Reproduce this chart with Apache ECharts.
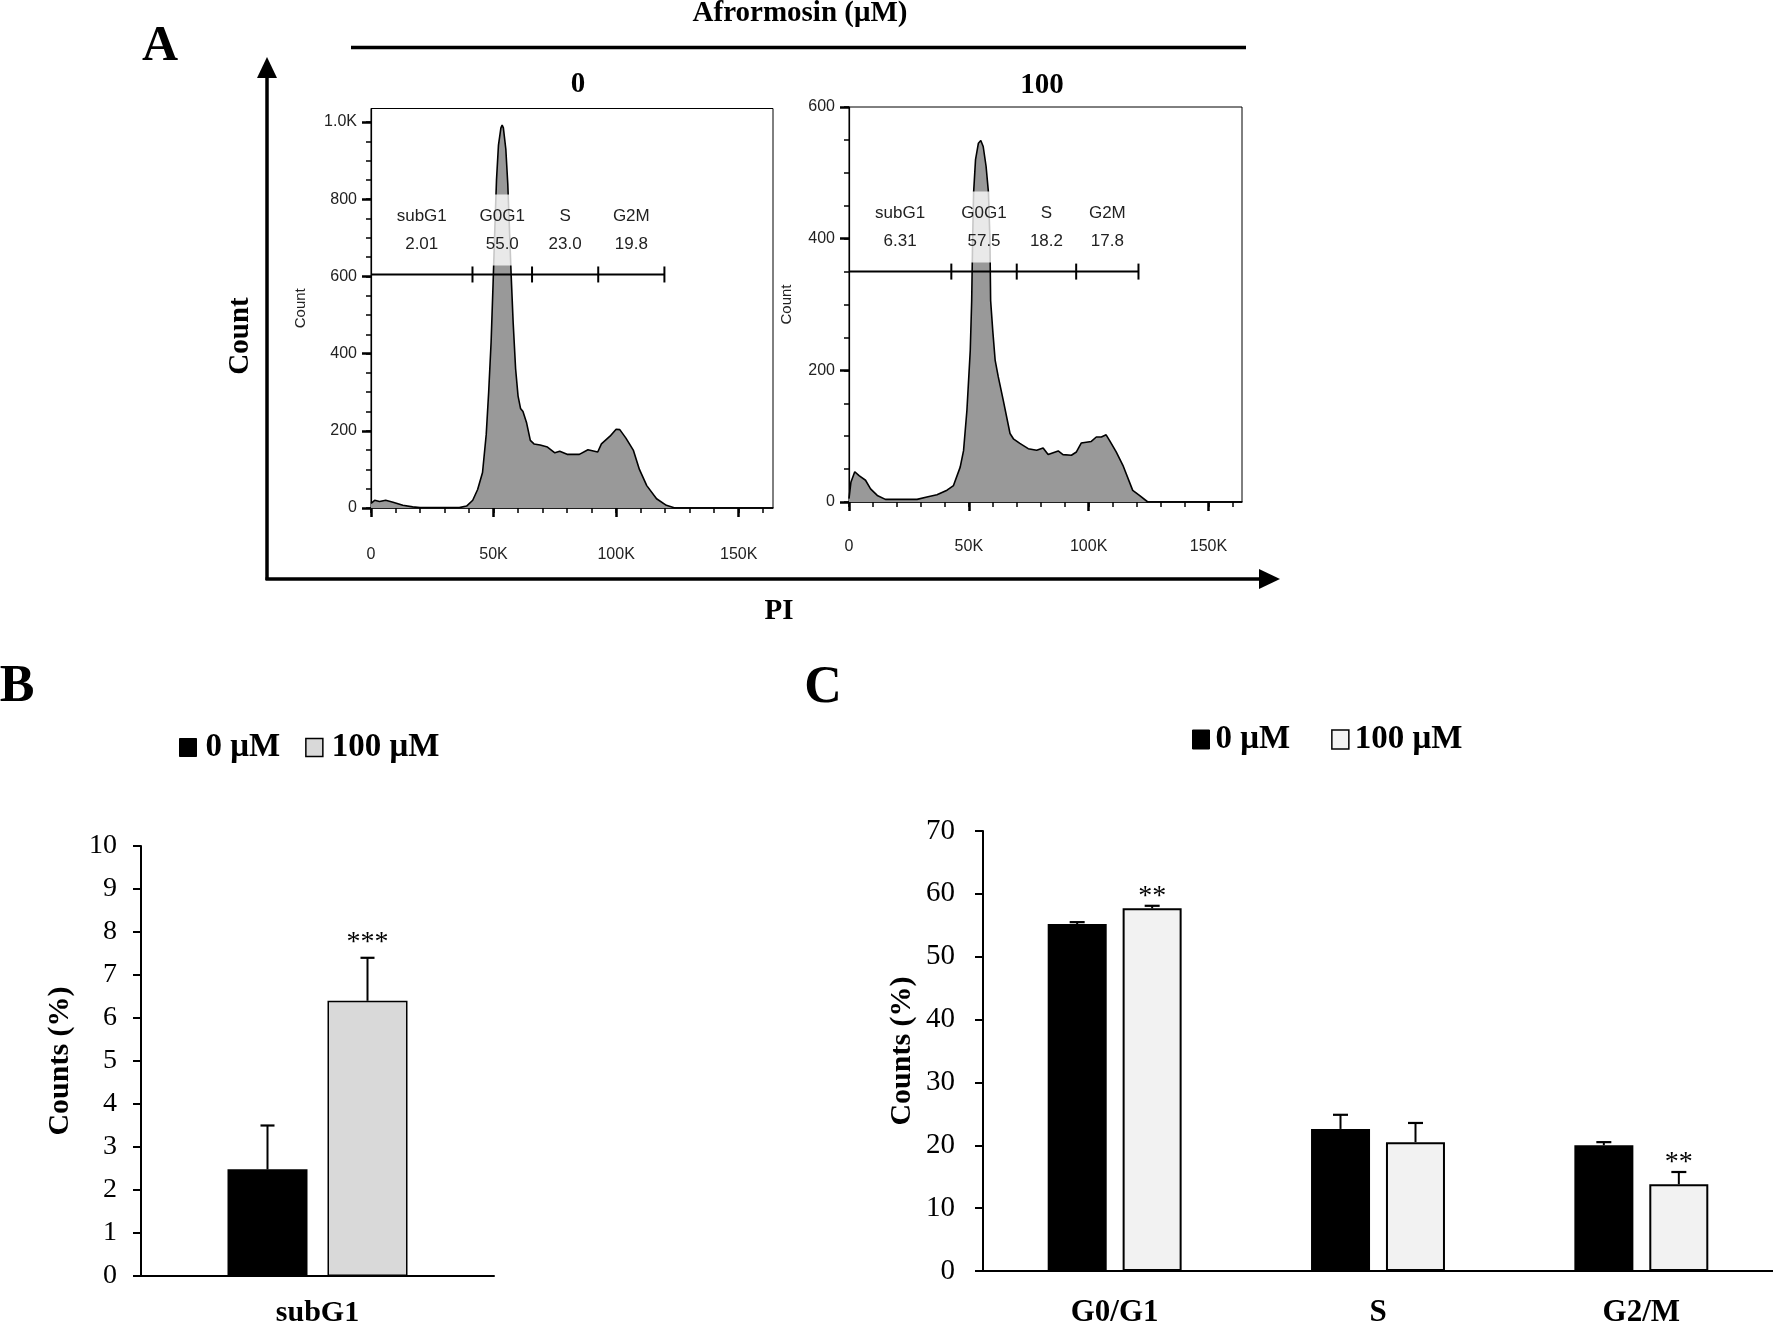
<!DOCTYPE html>
<html>
<head>
<meta charset="utf-8">
<script src="https://cdn.jsdelivr.net/npm/echarts@6/dist/echarts.min.js"></script>
<style>
html,body{margin:0;padding:0;background:#fff;}
#c{width:1773px;height:1328px;}
</style>
</head>
<body>
<div id="c"></div>
<script>
// ---------------- DATA ----------------
// Panel A: PI histograms (x in thousands, y = count)
const hist0PI = [0,1.5,3.5,6,9,13,17,20,36,39,41.5,43.5,45.5,47,48,49,49.8,50.5,51.2,52,53,53.5,54,55,55.8,56.5,57.2,58,59,60,61,62,63.5,65,66.5,69,72,75,77,80,85,88.5,92.5,94,97.5,100,101.5,104,107,109.5,112.5,116.5,120.5,124,164];
const hist0Count = [12,20,17,20,15,7,3,1,1,5,20,48,92,190,300,430,580,720,850,940,985,992,985,930,840,720,600,480,360,290,258,250,220,175,166,163,158,143,147,139,139,151,145,166,186,204,203,181,150,100,58,24,7,0,0];

const hist100PI = [0,0.8,2.4,4.2,6.9,9,11.8,15.2,28.4,29,32.5,36.7,40.9,43.6,46.4,47.8,49.2,50.6,51.2,51.6,52,52.8,54,55,56,57.2,58.2,58.8,59.1,60,61,62.3,64.4,67.2,68.6,71.3,74.8,78.3,81,83.1,87.3,89.3,92.8,94.9,96.9,101.1,103.2,105.3,107.3,108.7,111.5,114.3,118.4,121.2,124.7,164];
const hist100Count = [5,30,46,40,33,20,10,4,4,6.6,7.6,11,18,25,53,78,139,230,306,400,470,520,545,549,540,510,470,400,306,260,215,190,154,104,96,89,81,78.5,82,72,77.5,72,71,76,89.6,92,98.7,98.7,102,93.7,76,55.7,17.7,10,0,0];

// gates
const gateNames = ['subG1','G0G1','S','G2M'];
const gate0Ticks = [41.4, 65.7, 92.7, 119.7];
const gate0Y = 605;
const gate0Pct = ['2.01','55.0','23.0','19.8'];
const gate100Ticks = [42.7, 70.0, 94.8, 120.8];
const gate100Y = 350;
const gate100Pct = ['6.31','57.5','18.2','17.8'];

// histogram axis ticks
const histXMajor = [0, 50, 100, 150];
const histXLabels = ['0','50K','100K','150K'];
const histXMinor = [0,10,20,30,40,50,60,70,80,90,100,110,120,130,140,150,160];
const hist0YMajor = [0,200,400,600,800,1000];
const hist0YLabels = ['0','200','400','600','800','1.0K'];
const hist0YMinor = [0,50,100,150,200,250,300,350,400,450,500,550,600,650,700,750,800,850,900,950,1000];
const hist100YMajor = [0,200,400,600];
const hist100YLabels = ['0','200','400','600'];
const hist100YMinor = [0,50,100,150,200,250,300,350,400,450,500,550,600];

// Panel B: subG1
const catB = ['subG1'];
const b0Mean = [2.48];
const b0Err = [1.02];
const b100Mean = [6.40];
const b100Err = [1.00];
const b100Sig = ['***'];

// Panel C: cell cycle phases
const catC = ['G0/G1','S','G2/M'];
const c0Mean = [55.2, 22.6, 20.0];
const c0Err = [0.3, 2.25, 0.5];
const c100Mean = [57.7, 20.5, 13.8];
const c100Err = [0.4, 3.05, 1.95];
const c100Sig = ['**','','**'];

const seriesNames = ['0 μM','100 μM'];

// ---------------- STYLE ----------------
const SERIF = '"Liberation Serif","Times New Roman",Times,serif';
const SANS = '"Liberation Sans",Arial,Helvetica,sans-serif';
const zip = (a, b) => a.map((v, i) => [v, b[i]]);

function gateRender(ticks, names, pcts) {
  return function (params, api) {
    const y = api.value(1);
    const p0 = api.coord([0, y]);
    const pts = ticks.map(t => api.coord([t, y]));
    const bounds = [0].concat(ticks);
    const centers = names.map((n, i) => api.coord([(bounds[i] + bounds[i + 1]) / 2, y])[0]);
    const ch = [];
    ch.push({type:'rect', shape:{x:centers[1]-26, y:p0[1]-80, width:52, height:71},
             style:{fill:'rgba(255,255,255,0.78)'}});
    ch.push({type:'line', shape:{x1:p0[0], y1:p0[1], x2:pts[pts.length-1][0], y2:p0[1]},
             style:{stroke:'#000', lineWidth:2}});
    pts.forEach(p => ch.push({type:'line', shape:{x1:p[0], y1:p[1]-8, x2:p[0], y2:p[1]+8},
             style:{stroke:'#000', lineWidth:2}}));
    names.forEach((n, i) => {
      ch.push({type:'text', style:{text:n, x:centers[i], y:p0[1]-58, fill:'#222', fontSize:17,
               fontFamily:SANS, align:'center', verticalAlign:'middle', textAlign:'center', textVerticalAlign:'middle'}});
      ch.push({type:'text', style:{text:pcts[i], x:centers[i], y:p0[1]-30, fill:'#222', fontSize:17,
               fontFamily:SANS, align:'center', verticalAlign:'middle', textAlign:'center', textVerticalAlign:'middle'}});
    });
    return {type:'group', children:ch};
  };
}

function errRender(offset, capW, sigs, sigSize, sigGap) {
  return function (params, api) {
    const i = api.value(0), m = api.value(1), e = api.value(2);
    const b = api.coord([i, m]);
    const t = api.coord([i, m + e]);
    const x = b[0] + offset;
    const ch = [
      {type:'line', shape:{x1:x, y1:b[1], x2:x, y2:t[1]}, style:{stroke:'#000', lineWidth:2}},
      {type:'line', shape:{x1:x-capW/2, y1:t[1], x2:x+capW/2, y2:t[1]}, style:{stroke:'#000', lineWidth:2.2}}
    ];
    const s = sigs ? sigs[params.dataIndex] : '';
    if (s) ch.push({type:'text', style:{text:s, x:x, y:t[1]-sigGap, fill:'#000', fontSize:sigSize,
             fontFamily:SERIF, align:'center', verticalAlign:'middle', textAlign:'center', textVerticalAlign:'middle'}});
    return {type:'group', children:ch};
  };
}

function histXAxes(g, labelMargin) {
  return [
    {gridIndex:g, type:'value', min:0, max:164, position:'bottom',
     axisLine:{show:true, onZero:false, lineStyle:{color:'#000', width:1.5}},
     axisTick:{show:true, customValues:histXMinor, length:5, lineStyle:{color:'#000', width:1.5}},
     axisLabel:{show:false}, splitLine:{show:false}},
    {gridIndex:g, type:'value', min:0, max:164, position:'bottom',
     axisLine:{show:false, onZero:false},
     axisTick:{show:true, customValues:histXMajor, length:9, lineStyle:{color:'#000', width:2.5}},
     axisLabel:{show:true, customValues:histXMajor, margin:labelMargin, color:'#222', fontSize:16, fontFamily:SANS,
                formatter:v => histXLabels[histXMajor.indexOf(v)]},
     splitLine:{show:false}}
  ];
}
function histYAxes(g, max, minor, major, labels, gap) {
  return [
    {gridIndex:g, type:'value', min:0, max:max, position:'left',
     axisLine:{show:true, onZero:false, lineStyle:{color:'#000', width:1.2}},
     axisTick:{show:true, customValues:minor, length:5, lineStyle:{color:'#000', width:1.5}},
     axisLabel:{show:false}, splitLine:{show:false}},
    {gridIndex:g, type:'value', min:0, max:max, position:'left',
     axisLine:{show:false, onZero:false},
     axisTick:{show:true, customValues:major, length:9, lineStyle:{color:'#000', width:2.5}},
     axisLabel:{show:true, customValues:major, margin:14, color:'#222', fontSize:16, fontFamily:SANS,
                formatter:v => labels[major.indexOf(v)]},
     splitLine:{show:false},
     name:'Count', nameLocation:'middle', nameGap:gap, nameRotate:90,
     nameTextStyle:{color:'#222', fontSize:15, fontFamily:SANS}}
  ];
}

const legendText = {color:'#000', fontSize:33, fontWeight:'bold', fontFamily:SERIF, padding:[0,0,0,4]};

const option = {
  animation:false,
  backgroundColor:'#fff',
  grid:[
    {left:371, top:108.5, width:402, height:399.5, show:true, borderColor:'#000', borderWidth:1, backgroundColor:'transparent'},
    {left:849, top:107, width:393, height:395, show:true, borderColor:'#000', borderWidth:1, backgroundColor:'transparent'},
    {left:141, top:846, width:353, height:435},
    {left:983, top:831, width:790, height:442}
  ],
  legend:[
    {left:179, top:731, padding:0, itemWidth:17, itemHeight:18, itemGap:25, icon:'rect',
     textStyle:legendText, selectedMode:false,
     data:[{name:seriesNames[0], itemStyle:{color:'#000', borderColor:'#000', borderWidth:1}},
           {name:seriesNames[1], itemStyle:{color:'#d9d9d9', borderColor:'#000', borderWidth:1.5}}]},
    {left:1192, top:723, padding:0, itemWidth:17, itemHeight:19, itemGap:41, icon:'rect',
     textStyle:{color:'#000', fontSize:33, fontWeight:'bold', fontFamily:SERIF, padding:[0,0,0,1]}, selectedMode:false,
     data:[{name:seriesNames[0], itemStyle:{color:'#000', borderColor:'#000', borderWidth:1}},
           {name:seriesNames[1], itemStyle:{color:'#f2f2f2', borderColor:'#000', borderWidth:1.5}}]}
  ],
  xAxis:[].concat(
    histXAxes(0, 39), histXAxes(1, 37),
    [
      {gridIndex:2, type:'category', data:catB,
       axisLine:{show:true, lineStyle:{color:'#000', width:2}}, axisTick:{show:false},
       axisLabel:{color:'#000', fontSize:30, fontWeight:'bold', fontFamily:SERIF, margin:22}},
      {gridIndex:3, type:'category', data:catC,
       axisLine:{show:true, lineStyle:{color:'#000', width:2}}, axisTick:{show:false},
       axisLabel:{color:'#000', fontSize:31, fontWeight:'bold', fontFamily:SERIF, margin:26}}
    ]
  ),
  yAxis:[].concat(
    histYAxes(0, 1035, hist0YMinor, hist0YMajor, hist0YLabels, 63),
    histYAxes(1, 600, hist100YMinor, hist100YMajor, hist100YLabels, 55),
    [
      {gridIndex:2, type:'value', min:0, max:10, interval:1,
       axisLine:{show:true, lineStyle:{color:'#000', width:2}},
       axisTick:{show:true, length:8, lineStyle:{color:'#000', width:2}},
       axisLabel:{color:'#000', fontSize:28, fontFamily:SERIF, margin:24},
       splitLine:{show:false},
       name:'Counts (%)', nameLocation:'middle', nameRotate:90, nameGap:66,
       nameTextStyle:{color:'#000', fontSize:30, fontWeight:'bold', fontFamily:SERIF}},
      {gridIndex:3, type:'value', min:0, max:70, interval:10,
       axisLine:{show:true, lineStyle:{color:'#000', width:2}},
       axisTick:{show:true, length:8, lineStyle:{color:'#000', width:2}},
       axisLabel:{color:'#000', fontSize:29, fontFamily:SERIF, margin:28},
       splitLine:{show:false},
       name:'Counts (%)', nameLocation:'middle', nameRotate:90, nameGap:66,
       nameTextStyle:{color:'#000', fontSize:30, fontWeight:'bold', fontFamily:SERIF}}
    ]
  ),
  series:[
    {type:'line', xAxisIndex:0, yAxisIndex:0, data:zip(hist0PI, hist0Count), symbol:'none', silent:true,
     lineStyle:{color:'#000', width:1.6}, areaStyle:{color:'#999999', opacity:1}, z:2},
    {type:'custom', xAxisIndex:0, yAxisIndex:0, data:[[0, gate0Y]], silent:true, z:5,
     renderItem:gateRender(gate0Ticks, gateNames, gate0Pct)},
    {type:'line', xAxisIndex:2, yAxisIndex:2, data:zip(hist100PI, hist100Count), symbol:'none', silent:true,
     lineStyle:{color:'#000', width:1.6}, areaStyle:{color:'#999999', opacity:1}, z:2},
    {type:'custom', xAxisIndex:2, yAxisIndex:2, data:[[0, gate100Y]], silent:true, z:5,
     renderItem:gateRender(gate100Ticks, gateNames, gate100Pct)},

    {name:seriesNames[0], type:'bar', xAxisIndex:4, yAxisIndex:4, data:b0Mean, barWidth:80, barGap:'25%',
     itemStyle:{color:'#000', borderColor:'#000', borderWidth:1.5}},
    {name:seriesNames[1], type:'bar', xAxisIndex:4, yAxisIndex:4, data:b100Mean, barWidth:80, barGap:'25%',
     itemStyle:{color:'#d9d9d9', borderColor:'#000', borderWidth:1.5}},
    {type:'custom', xAxisIndex:4, yAxisIndex:4, silent:true, z:5, encode:{x:0, y:1},
     data:b0Mean.map((m, i) => [i, m, b0Err[i]]), renderItem:errRender(-50, 14, null, 28, 0)},
    {type:'custom', xAxisIndex:4, yAxisIndex:4, silent:true, z:5, encode:{x:0, y:1},
     data:b100Mean.map((m, i) => [i, m, b100Err[i]]), renderItem:errRender(50, 14, b100Sig, 28, 15)},

    {name:seriesNames[0], type:'bar', xAxisIndex:5, yAxisIndex:5, data:c0Mean, barWidth:59, barGap:'27%',
     itemStyle:{color:'#000', borderColor:'#000', borderWidth:2}},
    {name:seriesNames[1], type:'bar', xAxisIndex:5, yAxisIndex:5, data:c100Mean, barWidth:59, barGap:'27%',
     itemStyle:{color:'#f2f2f2', borderColor:'#000', borderWidth:2}},
    {type:'custom', xAxisIndex:5, yAxisIndex:5, silent:true, z:5, encode:{x:0, y:1},
     data:c0Mean.map((m, i) => [i, m, c0Err[i]]), renderItem:errRender(-37.5, 15, null, 28, 0)},
    {type:'custom', xAxisIndex:5, yAxisIndex:5, silent:true, z:5, encode:{x:0, y:1},
     data:c100Mean.map((m, i) => [i, m, c100Err[i]]), renderItem:errRender(37.5, 15, c100Sig, 28, 9.5)}
  ],
  graphic:[
    // panel letters
    {type:'text', x:160, y:47, style:{text:'A', x:0, y:0, fill:'#000', fontSize:50, fontWeight:'bold', fontFamily:SERIF, align:'center', verticalAlign:'middle', textAlign:'center', textVerticalAlign:'middle'}},
    {type:'text', x:17, y:688, style:{text:'B', x:0, y:0, fill:'#000', fontSize:52, fontWeight:'bold', fontFamily:SERIF, align:'center', verticalAlign:'middle', textAlign:'center', textVerticalAlign:'middle'}},
    {type:'text', x:823, y:689, style:{text:'C', x:0, y:0, fill:'#000', fontSize:52, fontWeight:'bold', fontFamily:SERIF, align:'center', verticalAlign:'middle', textAlign:'center', textVerticalAlign:'middle'}},
    // panel A header
    {type:'text', x:800, y:14, style:{text:'Afrormosin (μM)', x:0, y:0, fill:'#000', fontSize:29, fontWeight:'bold', fontFamily:SERIF, align:'center', verticalAlign:'middle', textAlign:'center', textVerticalAlign:'middle'}},
    {type:'line', shape:{x1:351, y1:47.5, x2:1246, y2:47.5}, style:{stroke:'#000', lineWidth:3.5}},
    {type:'text', x:578, y:85, style:{text:'0', x:0, y:0, fill:'#000', fontSize:29, fontWeight:'bold', fontFamily:SERIF, align:'center', verticalAlign:'middle', textAlign:'center', textVerticalAlign:'middle'}},
    {type:'text', x:1042, y:86, style:{text:'100', x:0, y:0, fill:'#000', fontSize:29, fontWeight:'bold', fontFamily:SERIF, align:'center', verticalAlign:'middle', textAlign:'center', textVerticalAlign:'middle'}},
    // big axes arrows
    {type:'line', shape:{x1:267, y1:580, x2:267, y2:72}, style:{stroke:'#000', lineWidth:3.5}},
    {type:'polygon', shape:{points:[[257,78],[277,78],[267,57]]}, style:{fill:'#000'}},
    {type:'line', shape:{x1:265.5, y1:579, x2:1264, y2:579}, style:{stroke:'#000', lineWidth:3.5}},
    {type:'polygon', shape:{points:[[1259,569],[1259,589],[1280,579]]}, style:{fill:'#000'}},
    {type:'text', x:241, y:336, rotation:Math.PI/2, style:{text:'Count', x:0, y:0, fill:'#000', fontSize:29, fontWeight:'bold', fontFamily:SERIF, align:'center', verticalAlign:'middle', textAlign:'center', textVerticalAlign:'middle'}},
    {type:'text', x:779, y:612, style:{text:'PI', x:0, y:0, fill:'#000', fontSize:29, fontWeight:'bold', fontFamily:SERIF, align:'center', verticalAlign:'middle', textAlign:'center', textVerticalAlign:'middle'}}
  ]
};

const chart = echarts.init(document.getElementById('c'), null, {renderer:'canvas', width:1773, height:1328});
chart.setOption(option);
</script>
</body>
</html>
